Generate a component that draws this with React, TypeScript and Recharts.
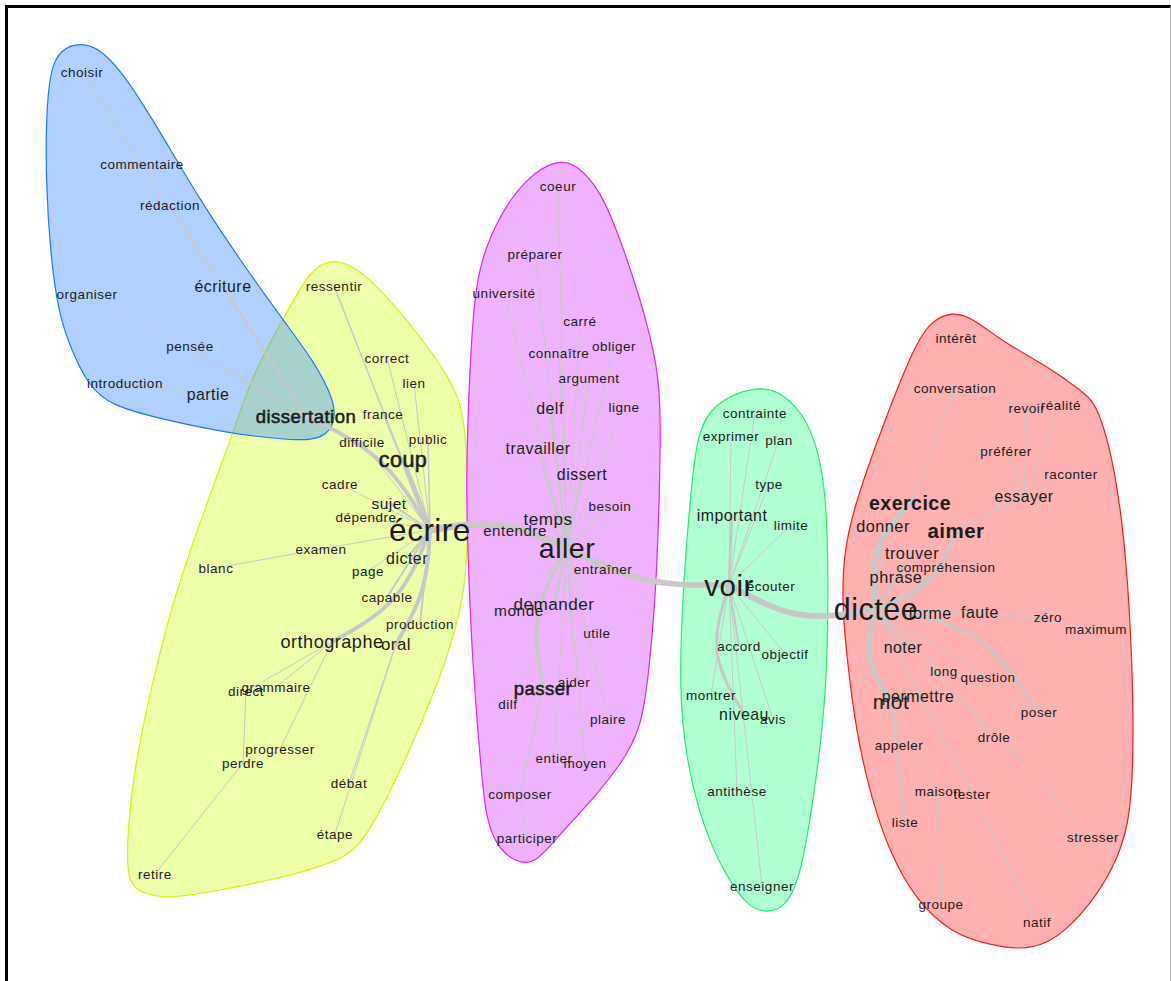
import { Scatter, ScatterChart, XAxis, YAxis } from 'recharts'

// word, x, y, frequency (layout coordinates of the similarity graph)
const BLUE_WORDS: [string, number, number, number][] = [
  ['choisir', 82, 72, 10],
  ['commentaire', 142, 164, 10],
  ['rédaction', 170, 205, 10],
  ['écriture', 223, 286, 22],
  ['organiser', 87, 294, 10],
  ['pensée', 190, 346, 10],
  ['introduction', 125, 383, 10],
  ['partie', 208, 394, 22],
  ['dissertation', 306, 416, 35],
]

const YELLOW_WORDS: [string, number, number, number][] = [
  ['ressentir', 334, 286, 10],
  ['correct', 387, 358, 10],
  ['lien', 414, 383, 10],
  ['france', 383, 414, 10],
  ['difficile', 362, 442, 10],
  ['public', 428, 439, 10],
  ['coup', 403, 460, 50],
  ['cadre', 340, 484, 10],
  ['sujet', 389, 503, 20],
  ['dépendre', 366, 517, 10],
  ['écrire', 430, 530, 100],
  ['examen', 321, 549, 10],
  ['dicter', 407, 558, 22],
  ['blanc', 216, 568, 10],
  ['page', 368, 571, 10],
  ['capable', 387, 597, 10],
  ['production', 420, 624, 10],
  ['orthographe', 332, 642, 33],
  ['oral', 396, 644, 27],
  ['direct', 246, 691, 10],
  ['grammaire', 276, 687, 10],
  ['progresser', 280, 749, 10],
  ['perdre', 243, 763, 10],
  ['débat', 349, 783, 10],
  ['étape', 335, 834, 10],
  ['retire', 155, 874, 10],
]

const PURPLE_WORDS: [string, number, number, number][] = [
  ['coeur', 558, 186, 10],
  ['préparer', 535, 254, 10],
  ['université', 504, 293, 10],
  ['carré', 580, 321, 10],
  ['connaître', 559, 353, 10],
  ['obliger', 614, 346, 10],
  ['argument', 589, 378, 10],
  ['ligne', 624, 407, 10],
  ['delf', 550, 408, 22],
  ['travailler', 538, 448, 22],
  ['dissert', 582, 474, 22],
  ['besoin', 610, 506, 10],
  ['temps', 548, 519, 28],
  ['entendre', 515, 530, 18],
  ['aller', 567, 548, 85],
  ['entraîner', 603, 569, 10],
  ['demander', 554, 604, 28],
  ['monde', 519, 610, 20],
  ['utile', 597, 633, 10],
  ['aider', 574, 682, 10],
  ['passer', 543, 688, 35],
  ['dilf', 508, 704, 10],
  ['plaire', 608, 719, 10],
  ['entier', 554, 758, 10],
  ['moyen', 585, 763, 10],
  ['composer', 520, 794, 10],
  ['participer', 527, 838, 10],
]

const GREEN_WORDS: [string, number, number, number][] = [
  ['contrainte', 755, 413, 10],
  ['exprimer', 731, 436, 10],
  ['plan', 779, 440, 10],
  ['type', 769, 484, 10],
  ['important', 732, 515, 22],
  ['limite', 791, 525, 10],
  ['voir', 729, 585, 90],
  ['écouter', 771, 586, 10],
  ['accord', 739, 646, 10],
  ['objectif', 785, 654, 10],
  ['montrer', 711, 695, 10],
  ['niveau', 744, 714, 22],
  ['avis', 773, 719, 10],
  ['antithèse', 737, 791, 10],
  ['enseigner', 762, 886, 10],
]

const RED_WORDS: [string, number, number, number][] = [
  ['intérêt', 956, 338, 10],
  ['conversation', 955, 388, 10],
  ['revoir', 1027, 408, 10],
  ['réalité', 1061, 405, 10],
  ['préférer', 1006, 451, 10],
  ['raconter', 1071, 474, 10],
  ['essayer', 1024, 496, 22],
  ['exercice', 910, 503, 40],
  ['donner', 883, 526, 24],
  ['aimer', 956, 530, 45],
  ['trouver', 912, 553, 24],
  ['compréhension', 946, 567, 10],
  ['phrase', 896, 577, 24],
  ['dictée', 876, 609, 95],
  ['forme', 930, 613, 22],
  ['faute', 980, 612, 22],
  ['zéro', 1048, 617, 10],
  ['maximum', 1096, 629, 10],
  ['noter', 903, 647, 22],
  ['long', 944, 671, 10],
  ['question', 988, 677, 10],
  ['permettre', 918, 696, 22],
  ['mot', 891, 701, 48],
  ['poser', 1039, 712, 10],
  ['drôle', 994, 737, 10],
  ['appeler', 899, 745, 10],
  ['maison', 938, 791, 10],
  ['tester', 972, 794, 10],
  ['liste', 905, 822, 10],
  ['stresser', 1093, 837, 10],
  ['groupe', 941, 904, 10],
  ['natif', 1037, 922, 10],
]

// source, target, co-occurrence weight
const EDGES: [string, string, number][] = [
  ['écrire', 'aller', 7],
  ['aller', 'voir', 5.5],
  ['voir', 'dictée', 6],
  ['écrire', 'dissertation', 4],
  ['dissertation', 'choisir', 1],
  ['choisir', 'commentaire', 1],
  ['dissertation', 'rédaction', 1],
  ['dissertation', 'écriture', 2],
  ['dissertation', 'organiser', 1],
  ['dissertation', 'pensée', 1],
  ['dissertation', 'partie', 1],
  ['partie', 'introduction', 1],
  ['écrire', 'coup', 5],
  ['écrire', 'ressentir', 1.5],
  ['écrire', 'correct', 1],
  ['écrire', 'lien', 1],
  ['écrire', 'france', 1],
  ['écrire', 'difficile', 1],
  ['écrire', 'public', 1.5],
  ['écrire', 'cadre', 1],
  ['écrire', 'sujet', 2],
  ['écrire', 'dépendre', 1],
  ['écrire', 'examen', 1],
  ['examen', 'blanc', 1],
  ['écrire', 'dicter', 2],
  ['écrire', 'page', 1],
  ['écrire', 'capable', 2],
  ['écrire', 'production', 2],
  ['écrire', 'orthographe', 4],
  ['écrire', 'oral', 4],
  ['orthographe', 'grammaire', 1],
  ['orthographe', 'direct', 1],
  ['orthographe', 'progresser', 1],
  ['direct', 'perdre', 1],
  ['perdre', 'retire', 1],
  ['oral', 'débat', 1],
  ['oral', 'étape', 1],
  ['aller', 'temps', 2],
  ['aller', 'entendre', 1],
  ['aller', 'coeur', 1],
  ['aller', 'préparer', 1],
  ['aller', 'université', 1],
  ['aller', 'carré', 1],
  ['aller', 'connaître', 1],
  ['aller', 'obliger', 1],
  ['aller', 'argument', 1],
  ['aller', 'ligne', 1],
  ['aller', 'delf', 2],
  ['aller', 'travailler', 2],
  ['aller', 'dissert', 2],
  ['aller', 'besoin', 1.5],
  ['aller', 'entraîner', 1],
  ['aller', 'demander', 3],
  ['aller', 'monde', 1],
  ['aller', 'utile', 1],
  ['aller', 'passer', 4],
  ['aller', 'aider', 1],
  ['aller', 'plaire', 1],
  ['aller', 'moyen', 1],
  ['aller', 'entier', 1],
  ['passer', 'dilf', 1],
  ['passer', 'composer', 1.5],
  ['composer', 'participer', 1],
  ['voir', 'contrainte', 1],
  ['voir', 'exprimer', 1],
  ['voir', 'plan', 1],
  ['voir', 'type', 1],
  ['voir', 'important', 2.5],
  ['voir', 'limite', 1],
  ['voir', 'écouter', 1],
  ['voir', 'accord', 2],
  ['voir', 'objectif', 1],
  ['voir', 'montrer', 1],
  ['voir', 'niveau', 3],
  ['voir', 'avis', 1],
  ['voir', 'antithèse', 1],
  ['voir', 'enseigner', 1],
  ['dictée', 'exercice', 5],
  ['exercice', 'conversation', 1],
  ['conversation', 'intérêt', 1],
  ['dictée', 'donner', 2],
  ['dictée', 'aimer', 4],
  ['aimer', 'essayer', 1.5],
  ['essayer', 'revoir', 1],
  ['essayer', 'réalité', 1],
  ['essayer', 'préférer', 1],
  ['aimer', 'raconter', 1],
  ['dictée', 'trouver', 2],
  ['dictée', 'compréhension', 1],
  ['dictée', 'phrase', 2],
  ['dictée', 'forme', 2],
  ['dictée', 'faute', 2],
  ['faute', 'zéro', 1],
  ['faute', 'maximum', 1],
  ['dictée', 'noter', 2],
  ['dictée', 'long', 1],
  ['dictée', 'question', 1],
  ['dictée', 'poser', 3],
  ['dictée', 'mot', 5],
  ['mot', 'permettre', 1.5],
  ['mot', 'appeler', 1],
  ['mot', 'liste', 2],
  ['mot', 'maison', 1],
  ['maison', 'groupe', 1],
  ['dictée', 'tester', 1],
  ['dictée', 'drôle', 1],
  ['dictée', 'stresser', 1],
  ['dictée', 'natif', 1],
]

// how much the main edges bow away from a straight line (fraction of length)
const EDGE_BEND: Record<string, number> = {
  'écrire-aller': -0.1,
  'aller-voir': 0.08,
  'voir-dictée': 0.12,
  'écrire-dissertation': 0.1,
  'écrire-orthographe': -0.12,
  'écrire-oral': -0.08,
  'aller-passer': 0.12,
  'dictée-exercice': -0.15,
  'dictée-mot': 0.15,
  'dictée-aimer': 0.15,
  'dictée-poser': -0.15,
  'voir-niveau': 0.15,
}

// cluster outlines
const YELLOW_HULL: [number, number][] = [
  [333, 258], [357, 268], [383, 292], [417, 332], [450, 378], [461, 405], [466, 437], [468, 500],
  [467, 560], [463, 600], [447, 660], [420, 727], [390, 793], [363, 842], [345, 857], [317, 868],
  [267, 881], [200, 894], [167, 898], [143, 894], [130, 884], [126, 860], [131, 793], [142, 727],
  [166, 627], [181, 577], [207, 503], [233, 433], [253, 373], [287, 312], [310, 270],
]

const BLUE_HULL: [number, number][] = [
  [80, 42], [103, 50], [128, 80], [162, 135], [200, 200], [240, 260], [283, 320], [313, 360],
  [330, 392], [336, 412], [331, 432], [313, 441], [280, 439], [233, 434], [160, 419], [110, 405],
  [89, 386], [72, 352], [58, 312], [50, 250], [46, 180], [46, 120], [50, 70], [60, 50],
]

const PURPLE_HULL: [number, number][] = [
  [557, 159], [578, 165], [601, 192], [618, 233], [641, 300], [658, 367], [661, 417], [659, 510],
  [656, 590], [649, 673], [641, 730], [621, 764], [594, 798], [560, 834], [537, 862], [520, 864],
  [500, 851], [486, 823], [480, 757], [472, 657], [468, 557], [466, 483], [469, 383], [474, 300],
  [481, 260], [499, 216], [526, 178],
]

const GREEN_HULL: [number, number][] = [
  [756, 385], [784, 393], [808, 420], [823, 466], [828, 535], [828, 621], [826, 690], [819, 759],
  [809, 828], [799, 880], [785, 908], [765, 913], [748, 906], [728, 880], [703, 828], [686, 759],
  [679, 690], [683, 587], [690, 501], [697, 432], [714, 403],
]

const RED_HULL: [number, number][] = [
  [953, 311], [974, 319], [1003, 342], [1047, 366], [1083, 392], [1094, 402], [1104, 427],
  [1114, 467], [1124, 533], [1131, 630], [1134, 733], [1131, 817], [1118, 858], [1098, 894],
  [1071, 926], [1047, 944], [1020, 950], [987, 944], [953, 934], [916, 901], [889, 851],
  [872, 800], [856, 733], [846, 650], [842, 600], [844, 550], [856, 500], [886, 417], [912, 352], [929, 322],
]

const CLUSTERS = [
  { hull: YELLOW_HULL, fill: '#eeffaa', opacity: 1, stroke: '#d4f500' },
  { hull: BLUE_HULL, fill: '#3a8cff', opacity: 0.4, stroke: '#1e78ff' },
  { hull: PURPLE_HULL, fill: '#efb3fe', opacity: 1, stroke: '#dd22ff' },
  { hull: GREEN_HULL, fill: '#b0ffd2', opacity: 1, stroke: '#22ee77' },
  { hull: RED_HULL, fill: '#ffb0b0', opacity: 1, stroke: '#ff1a1a' },
]

const ALL_WORDS = [...BLUE_WORDS, ...YELLOW_WORDS, ...PURPLE_WORDS, ...GREEN_WORDS, ...RED_WORDS]
const wordData = ALL_WORDS.map(([name, x, y, freq]) => ({ name, x, y, freq }))
const wordPos: Record<string, { x: number; y: number }> = {}
wordData.forEach((w) => (wordPos[w.name] = { x: w.x, y: w.y }))

// straight edge, or a bowed one through a shifted midpoint
const edgePoints = (a: string, b: string) => {
  const p = wordPos[a]
  const q = wordPos[b]
  const bend = EDGE_BEND[`${a}-${b}`] ?? 0
  if (!bend) return [p, q]
  const dx = q.x - p.x
  const dy = q.y - p.y
  const mid = { x: (p.x + q.x) / 2 - dy * bend, y: (p.y + q.y) / 2 + dx * bend }
  return [p, mid, q]
}

const fontSizeFor = (freq: number) => 11.5 + freq / 5
const weightFor = (freq: number) => (freq >= 38 && freq < 48 ? 'bold' : 'normal')
const haloFor = (freq: number) => ((freq >= 34 && freq < 38) || (freq >= 49 && freq < 70) ? 0.55 : 0)

const Blank = () => <g />

const WordLabel = (props: any) => {
  const { cx, cy, payload } = props
  const halo = haloFor(payload.freq)
  return (
    <text
      x={cx}
      y={cy}
      textAnchor="middle"
      dominantBaseline="central"
      fontSize={fontSizeFor(payload.freq)}
      fontWeight={weightFor(payload.freq)}
      letterSpacing={0.5}
      fill="#1c1c1c"
      stroke={halo ? '#1c1c1c' : 'none'}
      strokeWidth={halo}
      fontFamily="'Liberation Sans', Arial, sans-serif"
    >
      {payload.name}
    </text>
  )
}

export default function App() {
  return (
    <div style={{ position: 'absolute', left: 0, top: 0, width: 1171, height: 981, overflow: 'hidden', background: '#fff' }}>
      <div
        style={{
          position: 'absolute',
          left: 5,
          top: 5,
          width: 1162,
          height: 980,
          borderTop: '3px solid #000',
          borderLeft: '3px solid #000',
          borderRight: '1px solid #bbb',
        }}
      />
      <div style={{ position: 'absolute', left: 0, top: 0 }}>
        <ScatterChart width={1171} height={981} margin={{ top: 0, right: 0, bottom: 0, left: 0 }}>
          <XAxis type="number" dataKey="x" domain={[0, 1171]} hide />
          <YAxis type="number" dataKey="y" domain={[0, 981]} reversed hide />
          {CLUSTERS.map((c, i) => (
            <Scatter
              key={`hull-${i}`}
              data={c.hull.map(([x, y]) => ({ x, y }))}
              shape={Blank}
              line={{ fill: c.fill, fillOpacity: c.opacity, stroke: c.stroke, strokeWidth: 1.2 }}
              lineJointType="basisClosed"
              isAnimationActive={false}
            />
          ))}
          {EDGES.map(([a, b, w]) => (
            <Scatter
              key={`edge-${a}-${b}`}
              data={edgePoints(a, b)}
              shape={Blank}
              line={{ stroke: '#c8c8c8', strokeWidth: w, strokeLinecap: 'round' }}
              lineJointType="natural"
              isAnimationActive={false}
            />
          ))}
          <Scatter data={wordData} shape={WordLabel} isAnimationActive={false} />
        </ScatterChart>
      </div>
    </div>
  )
}
